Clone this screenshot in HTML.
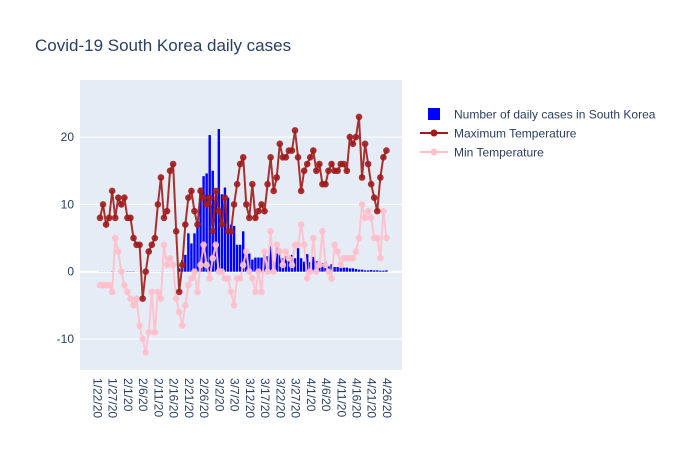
<!DOCTYPE html>
<html><head><meta charset="utf-8"><style>
body{margin:0;background:#fff;font-family:"Liberation Sans",sans-serif}
svg{display:block}
</style></head><body>
<svg id="chart" width="700" height="450" xmlns="http://www.w3.org/2000/svg">
<rect x="0" y="0" width="700" height="450" fill="#fff"/>
<text x="35" y="51" font-size="17" fill="#2a3f5f" font-family="Liberation Sans, sans-serif">Covid-19 South Korea daily cases</text>
<rect x="80" y="80" width="322" height="290" fill="#e5ecf6"/>
<g id="grid"></g><g id="bars"></g><g id="lines"></g><g id="axes"></g>
<g font-family="Liberation Sans, sans-serif" font-size="12" fill="#2a3f5f">
 <g><rect x="428" y="108" width="12" height="12" fill="#0000ff"/><text x="454" y="118.5">Number of daily cases in South Korea</text></g>
 <g><line x1="420" y1="133" x2="448" y2="133" stroke="#a01c1c" stroke-width="2"/><circle cx="434" cy="133" r="3.5" fill="#a01c1c"/><text x="454" y="137.5">Maximum Temperature</text></g>
 <g><line x1="420" y1="152" x2="448" y2="152" stroke="#ffc0cb" stroke-width="2"/><circle cx="434" cy="152" r="3.5" fill="#ffc0cb"/><text x="454" y="156.5">Min Temperature</text></g>
</g>
</svg>
<script>
const maxTemp=[8,10,7,8,12,8,11,10,11,8,8,5,4,4,-4,0,3,4,5,10,14,8,9,15,16,6,-3,1,7,11,12,9,7,12,11,10,11,6,12,9,7,11,6,6,10,13,16,17,10,8,
13,8,9,10,9,13,17,12,14,19,17,17,18,18,21,17,12,15,16,17,18,15,16,13,13,15,16,15,15,16,16,15,20,19,20,23,14,19,16,13,11,9,14,17,18];
const minTemp=[-2,-2,-2,-2,-3,5,3,0,-2,-3,-4,-5,-4,-8,-10,-12,-9,-3,-9,-3,-4,4,1,2,1,-4,-6,-8,-5,-2,-1,0,-3,1,4,1,-1,2,4,0,0,-1,-1,-3,-5,-1,-1,1,3,0,
-1,-3,0,-3,3,0,6,0,4,3,1,3,2,1,4,4,7,4,-1,0,5,0,1,6,1,0,-1,4,3,1,2,2,2,2,3,5,10,8,9,8,5,5,2,9,5];
const cases=[0.02,0.02,0.02,0.02,0.05,0.02,0.03,0.03,0.03,0.05,0.05,0.05,0.02,0.02,0.02,0.02,0.02,0.02,0.02,0.02,0.02,0.02,0.02,0.02,0.02,0.02,
0.5,1.7,2.5,5.7,4.2,5.7,7,12.5,14.2,14.6,20.3,15,11.5,21.2,11.5,12.5,11,7,6.8,4,4,6,2.8,2.7,1.8,2.1,2.1,2.1,3,2.3,3.8,1.5,3.8,2.8,2,2.3,1.6,2.5,2,3.5,2,1.5,2.6,1.4,2.2,1.6,1.5,1.3,1.5,0.8,1.1,0.7,0.7,0.7,0.6,0.6,0.5,0.5,0.4,0.3,0.3,0.2,0.2,0.25,0.2,0.2,0.15,0.15,0.2];
const yTicks=[-10,0,10,20];
const xTickLabels=["1/22/20","1/27/20","2/1/20","2/6/20","2/11/20","2/16/20","2/21/20","2/26/20","3/2/20","3/7/20","3/12/20","3/17/20","3/22/20","3/27/20","4/1/20","4/6/20","4/11/20","4/16/20","4/21/20","4/26/20"];
const NS="http://www.w3.org/2000/svg";
const X=d=>100+d*3.047;
const Y=v=>271.7-v*6.73;
function mk(tag,attrs,parent){const e=document.createElementNS(NS,tag);for(const k in attrs)e.setAttribute(k,attrs[k]);parent.appendChild(e);return e;}
const grid=document.getElementById('grid'),bars=document.getElementById('bars'),lines=document.getElementById('lines'),axes=document.getElementById('axes');
yTicks.forEach(t=>{
 const l=mk('line',{x1:80,x2:402,y1:Y(t),y2:Y(t),stroke:'#fff','stroke-width':t===0?2:1},grid);
 
 
 const tx=mk('text',{x:74,y:Y(t)+4,'text-anchor':'end','font-size':12,fill:'#2a3f5f','font-family':'Liberation Sans, sans-serif'},axes);
 tx.textContent=t;
 
 
});
xTickLabels.forEach((s,i)=>{
 const x=X(i*5)-2.5;
 const tx=mk('text',{x:0,y:0,transform:`translate(${x-4},378) rotate(90)`,'font-size':12,fill:'#2a3f5f','font-family':'Liberation Sans, sans-serif'},axes);
 tx.textContent=s;
 
 
});
cases.forEach((v,i)=>{
 const r=mk('rect',{x:X(i)-1.2,width:2.4,y:Math.min(Y(v),Y(0)),height:Math.abs(Y(v)-Y(0)),fill:'#0000ff'},bars);
 
 
});
function series(data,color,name){
 const p=mk('polyline',{points:data.map((v,i)=>X(i)+','+Y(v)).join(' '),fill:'none',stroke:color,'stroke-width':2,opacity:0.9},lines);
 
 
 data.forEach((v,i)=>{
  const c=mk('circle',{cx:X(i),cy:Y(v),r:3.3,fill:color,opacity:0.9},lines);
  
  
 });
}
series(minTemp,'#ffc0cb','min-temp');
series(maxTemp,'#a01c1c','max-temp');
</script>
</body></html>
